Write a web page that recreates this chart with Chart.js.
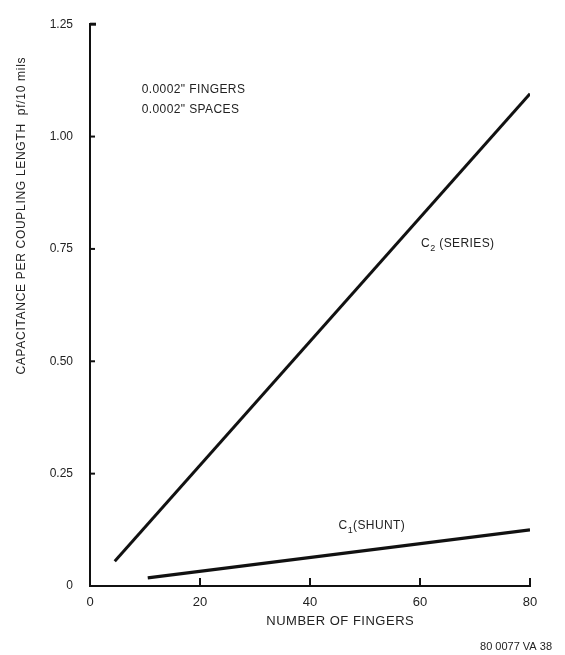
<!DOCTYPE html>
<html lang="en">
<head>
    <meta charset="UTF-8">
    <title>Capacitance per coupling length</title>
    <style>
        body { margin: 0; background: #fff; }
        .chart-container { width: 565px; height: 655px; }
    </style>
</head>
<body>
<div class="chart-container">
    <canvas id="fingers"></canvas>
</div>

<script src="https://cdn.jsdelivr.net/npm/chart.js@4.4.0/dist/chart.umd.min.js"></script>
<script>
    // line end points read as (number of fingers, pf / 10 mils)
    const seriesFingers = [4.5, 80];
    const seriesCap = [0.055, 1.095];
    const shuntFingers = [10.5, 80];
    const shuntCap = [0.018, 0.125];

    const xTicks = [0, 20, 40, 60, 80];
    const yTicks = [0, 0.25, 0.50, 0.75, 1.00, 1.25];

    const ink = '#111';
    const textInk = '#222';
    const font = '"Liberation Sans", Arial, sans-serif';

    function points(xs, ys) {
        return xs.map((x, i) => ({ x: x, y: ys[i] }));
    }

    // inward tick marks, axis titles and the in-plot labels
    const decorations = {
        id: 'decorations',
        afterDraw(chart) {
            const ctx = chart.ctx;
            const xs = chart.scales.x;
            const ys = chart.scales.y;
            const area = chart.chartArea;

            ctx.save();
            ctx.strokeStyle = ink;
            ctx.lineWidth = 2;
            for (const v of xTicks.slice(1)) {
                const px = xs.getPixelForValue(v);
                ctx.beginPath();
                ctx.moveTo(px, area.bottom);
                ctx.lineTo(px, area.bottom - 8);
                ctx.stroke();
            }
            for (const v of yTicks.slice(1)) {
                const py = ys.getPixelForValue(v);
                ctx.lineWidth = v === 1.25 ? 3 : 2;
                ctx.beginPath();
                ctx.moveTo(area.left, py);
                ctx.lineTo(area.left + (v === 1.25 ? 6 : 5), py);
                ctx.stroke();
            }

            ctx.fillStyle = textInk;
            ctx.textBaseline = 'alphabetic';

            // x axis title
            ctx.font = '13px ' + font;
            ctx.textAlign = 'center';
            ctx.letterSpacing = '0.5px';
            ctx.fillText('NUMBER OF FINGERS', xs.getPixelForValue(45.5), 625);

            // y axis title, sits toward the top of the axis
            ctx.save();
            ctx.translate(25, ys.getPixelForValue(0.824));
            ctx.rotate(-Math.PI / 2);
            ctx.font = '12px ' + font;
            ctx.letterSpacing = '0.7px';
            ctx.fillText('CAPACITANCE PER COUPLING LENGTH  pf/10 mils', 0, 0);
            ctx.restore();

            // figure number
            ctx.font = '11px ' + font;
            ctx.letterSpacing = '0px';
            ctx.textAlign = 'right';
            ctx.fillText('80 0077 VA 38', 552, 650);

            // finger geometry note
            ctx.font = '12px ' + font;
            ctx.textAlign = 'left';
            ctx.letterSpacing = '0.4px';
            const nx = xs.getPixelForValue(9.4);
            ctx.fillText('0.0002" FINGERS', nx, ys.getPixelForValue(1.096));
            ctx.fillText('0.0002" SPACES', nx, ys.getPixelForValue(1.052));

            // curve labels with subscripts
            function curveLabel(sub, rest, xv, yv) {
                let px = xs.getPixelForValue(xv);
                const py = ys.getPixelForValue(yv);
                ctx.font = '12px ' + font;
                ctx.fillText('C', px, py);
                px += ctx.measureText('C').width;
                ctx.font = '9px ' + font;
                ctx.fillText(sub, px, py + 4);
                px += ctx.measureText(sub).width;
                ctx.font = '12px ' + font;
                ctx.fillText(rest, px, py);
            }
            curveLabel('2', ' (SERIES)', 60.2, 0.755);
            curveLabel('1', '(SHUNT)', 45.2, 0.127);

            ctx.restore();
        }
    };

    function showChart() {
        const ctx = document.getElementById('fingers').getContext('2d');
        new Chart(ctx, {
            type: 'scatter',
            data: {
                datasets: [{
                    label: 'C2 (SERIES)',
                    data: points(seriesFingers, seriesCap),
                    showLine: true,
                    borderColor: ink,
                    borderWidth: 3,
                    pointRadius: 0
                },
                {
                    label: 'C1 (SHUNT)',
                    data: points(shuntFingers, shuntCap),
                    showLine: true,
                    borderColor: ink,
                    borderWidth: 3.2,
                    pointRadius: 0
                }]
            },
            options: {
                responsive: true,
                maintainAspectRatio: false,
                animation: false,
                layout: { padding: { left: 0, right: 35, top: 20, bottom: 0 } },
                plugins: {
                    legend: { display: false },
                    tooltip: { enabled: false }
                },
                scales: {
                    x: {
                        type: 'linear',
                        min: 0,
                        max: 80,
                        afterFit: (s) => { s.height = 69; },
                        afterBuildTicks: (s) => { s.ticks = xTicks.map(v => ({ value: v })); },
                        grid: { display: false, drawTicks: false },
                        border: { color: ink, width: 2 },
                        ticks: {
                            padding: 9,
                            color: textInk,
                            font: { family: font, size: 13 }
                        }
                    },
                    y: {
                        type: 'linear',
                        min: 0,
                        max: 1.25,
                        afterFit: (s) => { s.width = 90; },
                        afterBuildTicks: (s) => { s.ticks = yTicks.map(v => ({ value: v })); },
                        grid: { display: false, drawTicks: false },
                        border: { color: ink, width: 2 },
                        ticks: {
                            padding: 17,
                            color: textInk,
                            font: { family: font, size: 12 },
                            callback: (v) => v === 0 ? '0' : v.toFixed(2)
                        }
                    }
                }
            },
            plugins: [decorations]
        });
    }

    showChart();
</script>
</body>
</html>
